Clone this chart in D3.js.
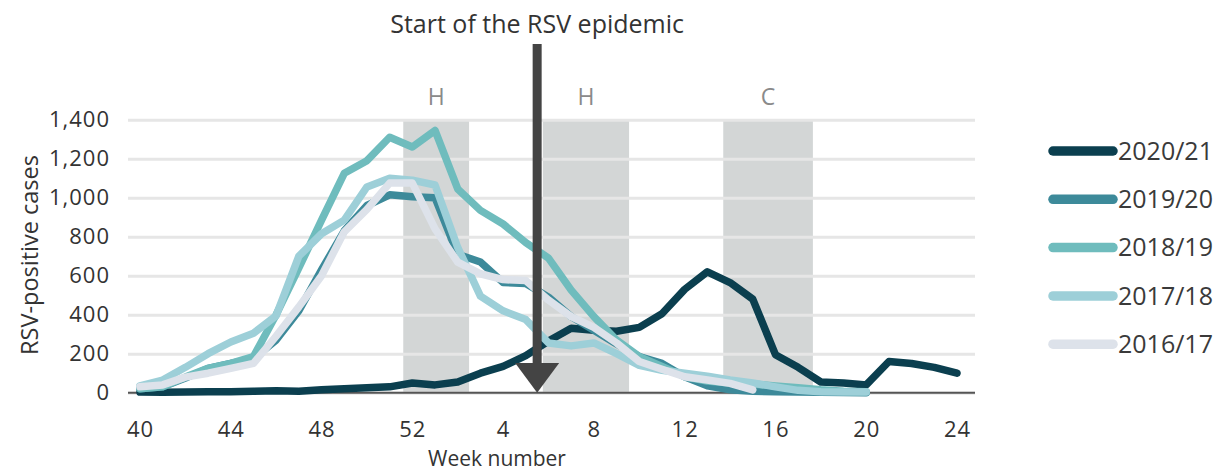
<!DOCTYPE html>
<html>
<head>
<meta charset="utf-8">
<script src="https://cdn.jsdelivr.net/npm/d3@7"></script>
<style>
  body { margin: 0; background: #fff; }
  text { font-family: "Open Sans", "Noto Sans", sans-serif; fill: #333; }
</style>
</head>
<body>
<div id="chart"></div>
<script>
// week labels along the x axis (season runs week 40 to week 24)
var weeks = [40,41,42,43,44,45,46,47,48,49,50,51,52,1,2,3,4,5,6,7,8,9,10,11,12,13,14,15,16,17,18,19,20,21,22,23,24];
var tickWeeks = [40,44,48,52,4,8,12,16,20,24];
var yTicks = [0,200,400,600,800,1000,1200,1400];

var seasons = ['2020/21','2019/20','2018/19','2017/18','2016/17'];
var colors = ['#0b3f4f','#3d8a9a','#6fbcbd','#9dcfd8','#dde2ea'];

var s2021 = [3,2,3,5,5,7,10,8,15,20,25,30,50,40,55,100,135,190,265,330,320,315,335,405,530,620,565,480,195,130,55,50,40,160,150,130,100];
var s1920 = [20,30,75,125,150,175,270,420,630,830,960,1015,1005,1000,710,670,565,560,490,390,320,250,185,150,82,35,15,8,5,3,2,1,0];
var s1819 = [20,30,80,125,150,185,400,640,885,1125,1190,1310,1260,1345,1045,935,865,770,690,526,390,270,185,135,82,60,50,45,35,25,15,8,5];
var s1718 = [35,65,130,200,260,305,395,700,815,885,1055,1100,1090,1065,745,495,420,375,255,240,255,200,140,115,100,85,65,50,30,12,5,3,3];
var s1617 = [30,40,80,100,125,150,290,440,600,825,940,1075,1075,840,670,610,580,575,475,390,335,255,160,120,82,65,48,14];
var seriesValues = [s2021, s1920, s1819, s1718, s1617];

// holiday / christmas periods, in week-index units
var bands = [
  {label: 'H', from: 11.6, to: 14.5},
  {label: 'H', from: 17.75, to: 21.55},
  {label: 'C', from: 25.7, to: 29.65}
];
var epidemicStart = 17.5;

var width = 1220, height = 473;

var x = d3.scaleLinear().domain([0, weeks.length - 1]).range([140, 957]);
var y = d3.scaleLinear().domain([0, 1400]).range([392.7, 119.7]);

var svg = d3.select('#chart').append('svg')
  .attr('width', width)
  .attr('height', height);

// shaded periods
svg.append('g').selectAll('rect')
  .data(bands)
  .enter().append('rect')
  .attr('x', function (d) { return x(d.from); })
  .attr('width', function (d) { return x(d.to) - x(d.from); })
  .attr('y', y(1400))
  .attr('height', y(0) - y(1400))
  .attr('fill', '#d3d6d6');

svg.append('g').selectAll('text')
  .data(bands)
  .enter().append('text')
  .attr('x', function (d) { return x((d.from + d.to) / 2); })
  .attr('y', 105)
  .attr('text-anchor', 'middle')
  .style('fill', '#8a8a8a')
  .style('font-size', '23px')
  .text(function (d) { return d.label; });

// gridlines
var yAxis = d3.axisLeft(y)
  .tickValues(yTicks)
  .tickSize(-(975 - 128))
  .tickPadding(18)
  .tickFormat(d3.format(','));

var gy = svg.append('g')
  .attr('transform', 'translate(128,0)')
  .call(yAxis);
gy.select('.domain').remove();
gy.selectAll('.tick line')
  .attr('stroke', '#e6e6e6')
  .attr('stroke-width', 3);
gy.selectAll('.tick text')
  .style('font-size', '22px')
  .style('letter-spacing', '1px')
  .style('fill', '#333');

// x axis
var xAxis = d3.axisBottom(x)
  .tickValues(tickWeeks.map(function (w) { return weeks.indexOf(w); }))
  .tickSize(0)
  .tickPadding(29)
  .tickFormat(function (i) { return weeks[i]; });

var gx = svg.append('g')
  .attr('transform', 'translate(0,' + y(0) + ')')
  .call(xAxis);
gx.select('.domain').remove();
gx.selectAll('.tick text')
  .style('font-size', '22px')
  .style('letter-spacing', '1px')
  .style('fill', '#333');

svg.append('line')
  .attr('x1', 128).attr('x2', 975)
  .attr('y1', y(0)).attr('y2', y(0))
  .attr('stroke', '#555')
  .attr('stroke-width', 2);

// lines
var line = d3.line()
  .x(function (d, i) { return x(i); })
  .y(function (d) { return y(d); });

svg.append('g').selectAll('path')
  .data(seriesValues)
  .enter().append('path')
  .attr('d', line)
  .attr('fill', 'none')
  .attr('stroke', function (d, i) { return colors[i]; })
  .attr('stroke-width', 7.5)
  .attr('stroke-linejoin', 'round')
  .attr('stroke-linecap', 'round');

// arrow for start of epidemic
var ax = x(epidemicStart);
svg.append('rect')
  .attr('x', ax - 4.5)
  .attr('y', 44)
  .attr('width', 9)
  .attr('height', 364 - 44)
  .attr('fill', '#444');
svg.append('path')
  .attr('d', 'M' + (ax - 22) + ',363L' + (ax + 22) + ',363L' + ax + ',' + y(0) + 'Z')
  .attr('fill', '#444');

svg.append('text')
  .attr('x', ax)
  .attr('y', 33)
  .attr('text-anchor', 'middle')
  .style('font-size', '25px')
  .text('Start of the RSV epidemic');

// axis titles
svg.append('text')
  .attr('transform', 'translate(38,255) rotate(-90)')
  .attr('text-anchor', 'middle')
  .style('font-size', '23.5px')
  .text('RSV-positive cases');

svg.append('text')
  .attr('x', 497)
  .attr('y', 466)
  .attr('text-anchor', 'middle')
  .style('font-size', '21px')
  .text('Week number');

// legend
var legend = svg.append('g').selectAll('g')
  .data(seasons)
  .enter().append('g')
  .attr('transform', function (d, i) { return 'translate(1053,' + (151 + i * 48.3) + ')'; });

legend.append('line')
  .attr('x1', 0).attr('x2', 60)
  .attr('stroke', function (d, i) { return colors[i]; })
  .attr('stroke-width', 9.5)
  .attr('stroke-linecap', 'round');

legend.append('text')
  .attr('x', 65)
  .attr('dy', '0.35em')
  .style('font-size', '25px')
  .style('fill', '#3a3a3a')
  .text(function (d) { return d; });
</script>
</body>
</html>
